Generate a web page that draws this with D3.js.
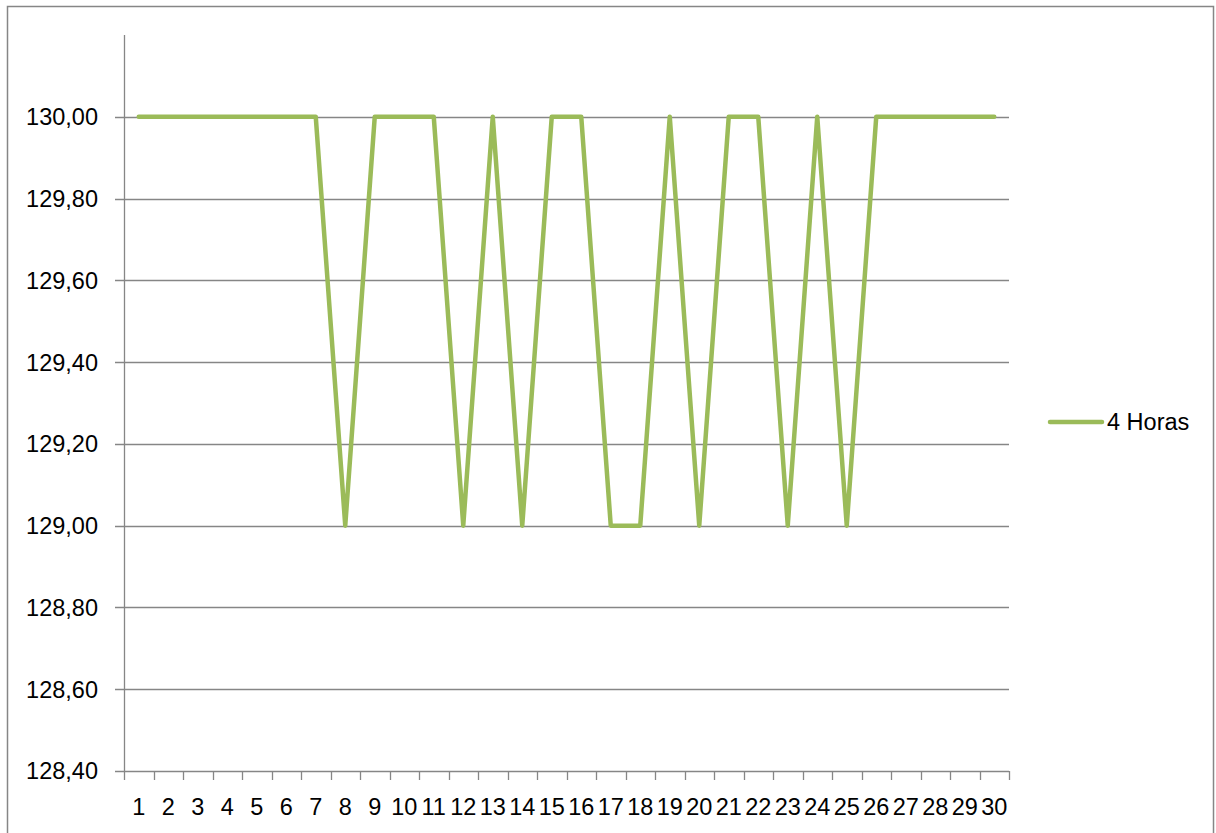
<!DOCTYPE html>
<html>
<head>
<meta charset="utf-8">
<script src="https://cdn.jsdelivr.net/npm/d3@7"></script>
<style>
  body { margin: 0; background: #fff; }
  text { font-family: "Liberation Sans", Arial, sans-serif; fill: #000; }
</style>
</head>
<body>
<div id="chart"></div>
<script>
// dias 1..30
const categories = d3.range(1, 31).map(String);
const values = [
  130, 130, 130, 130, 130, 130, 130, 129, 130, 130,
  130, 129, 130, 129, 130, 130, 129, 129, 130, 129,
  130, 130, 129, 130, 129, 130, 130, 130, 130, 130
];
const yTicks = [128.4, 128.6, 128.8, 129.0, 129.2, 129.4, 129.6, 129.8, 130.0];
const seriesName = "4 Horas";

const width = 1216, height = 833;
const plotLeft = 124, plotRight = 1009, plotTop = 35, plotBottom = 771;
const green = "#9bbb59", grey = "#868686";

const svg = d3.select("#chart").append("svg")
  .attr("width", width)
  .attr("height", height);

// chart area border
svg.append("rect")
  .attr("x", 7.5).attr("y", 6.5)
  .attr("width", 1206).attr("height", 840)
  .attr("fill", "none")
  .attr("stroke", grey).attr("stroke-width", 1.5);

const x = d3.scaleBand().domain(categories).range([plotLeft, plotRight]);
const y = d3.scaleLinear().domain([128.4, 130.2]).range([plotBottom, plotTop]);

const fmt = v => d3.format(".2f")(v).replace(".", ",");

// gridlines
svg.append("g").selectAll("line").data(yTicks).enter()
  .append("line")
  .attr("x1", plotLeft - 9).attr("x2", plotRight)
  .attr("y1", d => Math.round(y(d)) + 0.5).attr("y2", d => Math.round(y(d)) + 0.5)
  .attr("stroke", grey).attr("stroke-width", 1.3);

// y axis line
svg.append("line")
  .attr("x1", plotLeft + 0.5).attr("x2", plotLeft + 0.5)
  .attr("y1", plotTop).attr("y2", plotBottom)
  .attr("stroke", grey).attr("stroke-width", 1.3);

// y labels
svg.append("g").selectAll("text").data(yTicks).enter()
  .append("text")
  .attr("x", 98)
  .attr("y", d => y(d))
  .attr("dy", "0.36em")
  .attr("text-anchor", "end")
  .style("font-size", "23.5px")
  .text(fmt);

// x axis ticks
const xTickPos = categories.map(c => x(c)).concat([plotRight]);
svg.append("g").selectAll("line").data(xTickPos).enter()
  .append("line")
  .attr("x1", d => Math.round(d) + 0.5).attr("x2", d => Math.round(d) + 0.5)
  .attr("y1", plotBottom).attr("y2", plotBottom + 9)
  .attr("stroke", grey).attr("stroke-width", 1.3);

// x labels
svg.append("g").selectAll("text").data(categories).enter()
  .append("text")
  .attr("x", d => x(d) + x.bandwidth() / 2)
  .attr("y", 815)
  .attr("text-anchor", "middle")
  .style("font-size", "23.5px")
  .text(d => d);

// series line
const line = d3.line()
  .x((d, i) => x(categories[i]) + x.bandwidth() / 2)
  .y(d => y(d));

svg.append("path")
  .datum(values)
  .attr("d", line)
  .attr("fill", "none")
  .attr("stroke", green)
  .attr("stroke-width", 4.5)
  .attr("stroke-linejoin", "round")
  .attr("stroke-linecap", "round");

// legend
const lg = svg.append("g");
lg.append("line")
  .attr("x1", 1050).attr("x2", 1102)
  .attr("y1", 422).attr("y2", 422)
  .attr("stroke", green).attr("stroke-width", 4.5)
  .attr("stroke-linecap", "round");
lg.append("text")
  .attr("x", 1107).attr("y", 422)
  .attr("dy", "0.36em")
  .style("font-size", "23.5px")
  .text(seriesName);
</script>
</body>
</html>
